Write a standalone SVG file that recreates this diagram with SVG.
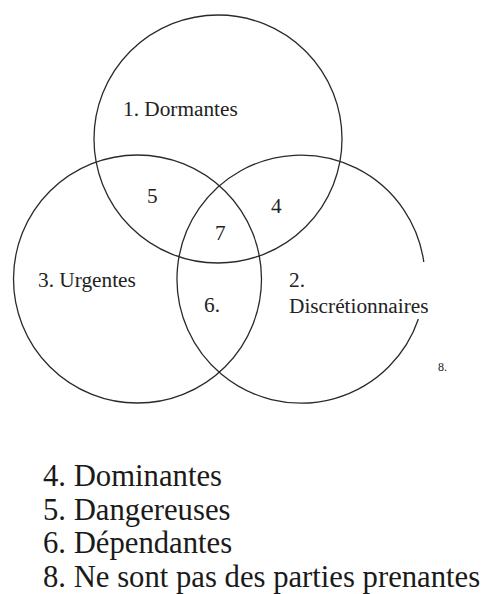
<svg xmlns="http://www.w3.org/2000/svg" width="484" height="594" viewBox="0 0 484 594">
  <style>
    .set { fill: none; stroke: #2a2a2a; stroke-width: 1.3; }
    text { font-family: 'Liberation Serif', 'DejaVu Serif', serif; fill: #222; }
    .lbl { font-size: 21.3px; }
    .small { font-size: 12px; }
    .legend { font-size: 30.7px; fill: #1a1a1a; }
  </style>
  <rect width="484" height="594" fill="#ffffff"/>
  <g id="set-dormantes">
    <circle class="set" cx="218" cy="139" r="124"/>
    <text class="lbl" x="123" y="116">1. Dormantes</text>
  </g>
  <g id="set-urgentes">
    <circle class="set" cx="137.5" cy="279" r="124"/>
    <text class="lbl" x="38" y="287">3. Urgentes</text>
  </g>
  <g id="set-discretionnaires">
    <path class="set" d="M 423.8 262 A 124 124 0 1 0 418.4 319"/>
    <text class="lbl" x="289" y="287">2.</text>
    <text class="lbl" x="289" y="313">Discrétionnaires</text>
  </g>
  <g id="regions">
    <text class="lbl" x="147" y="203">5</text>
    <text class="lbl" x="271" y="213">4</text>
    <text class="lbl" x="215" y="240">7</text>
    <text class="lbl" x="204" y="312">6.</text>
    <text class="small" x="438" y="371">8.</text>
  </g>
  <g id="connectors"></g>
  <g id="legend">
    <text class="legend" x="43" y="486">4. Dominantes</text>
    <text class="legend" x="43" y="520">5. Dangereuses</text>
    <text class="legend" x="43" y="553">6. Dépendantes</text>
    <text class="legend" x="43" y="587">8. Ne sont pas des parties prenantes</text>
  </g>
</svg>
